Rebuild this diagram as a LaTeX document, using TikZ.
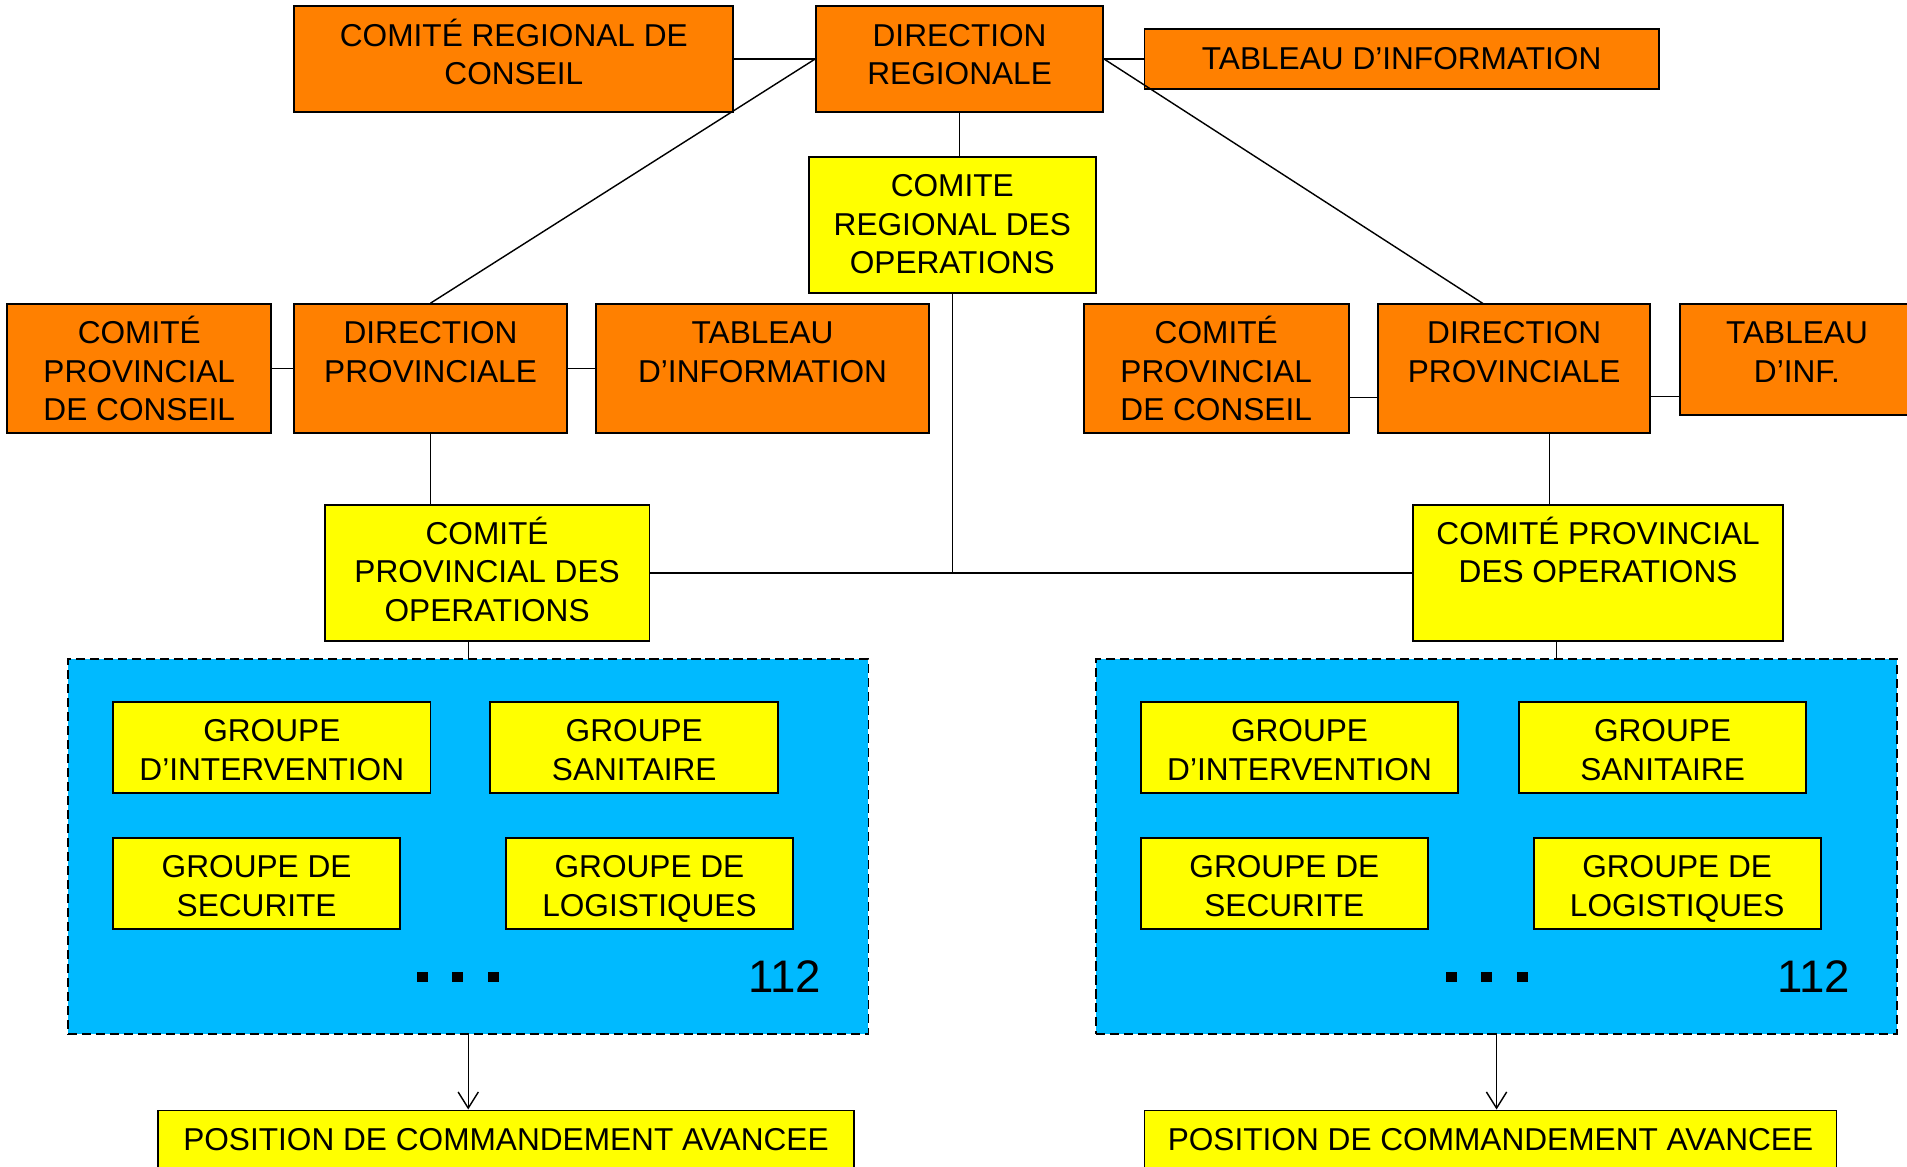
\documentclass[tikz,border=0pt]{standalone}
\usepackage{fontspec}
\setmainfont{Liberation Sans}
\usetikzlibrary{fit,calc,arrows.meta}
\definecolor{orng}{RGB}{255,128,0}
\definecolor{yel}{RGB}{255,255,0}
\definecolor{sky}{RGB}{0,186,255}
\tikzset{
  shapebox/.style={rectangle, draw=black, line width=0.9pt, inner sep=0pt},
  obox/.style={shapebox, fill=orng},
  ybox/.style={shapebox, fill=yel},
  bluebox/.style={rectangle, draw=black, fill=sky, line width=0.8pt, dash pattern=on 4.5pt off 2.4pt, inner sep=0pt},
  txt/.style={font=\fontsize{15.6}{18.9}\selectfont, align=center, inner sep=0pt},
  num/.style={font=\fontsize{22.5}{24}\selectfont, inner sep=0pt},
  dotsq/.style={rectangle, fill=black, minimum width=5.4pt, minimum height=5.1pt, inner sep=0pt},
  link/.style={draw=black, line width=0.7pt},
  arr/.style={link, -{Straight Barb[length=8pt,width=10pt]}}
}
\newcommand\orgbox[7]{%
  \node[#2, fit={(#3,#4) (#5,#6)}] (#1) {};
  \node[txt, anchor=north] (#1-t) at ($(#1.north)+(0,10.7)$) {\vphantom{É}\strut#7};
}
\begin{document}
\begin{tikzpicture}[x=0.6pt,y=-0.6pt]
\useasboundingbox (0,0) rectangle (1568,959.5);
\clip (0,0) rectangle (1568,959.5);

% blue group areas
\node[bluebox, fit={(56,542) (714,850)}] (bl) {};
\node[bluebox, fit={(901,542) (1560,850)}] (br) {};

% top level
\orgbox{crc}{obox}{242}{5}{603}{92}{COMITÉ REGIONAL DE\\CONSEIL}
\orgbox{dr}{obox}{671}{5}{907}{92}{DIRECTION\\REGIONALE}
\orgbox{ti}{obox}{941}{24}{1364}{73}{TABLEAU D’INFORMATION}
\orgbox{cro}{ybox}{665}{129}{901}{241}{COMITE\\REGIONAL DES\\OPERATIONS}

% provincial left
\orgbox{cpcl}{obox}{6}{250}{223}{356}{COMITÉ\\PROVINCIAL\\DE CONSEIL}
\orgbox{dpl}{obox}{242}{250}{466}{356}{DIRECTION\\PROVINCIALE}
\orgbox{til}{obox}{490}{250}{764}{356}{TABLEAU\\D’INFORMATION}
% provincial right
\orgbox{cpcr}{obox}{891}{250}{1109}{356}{COMITÉ\\PROVINCIAL\\DE CONSEIL}
\orgbox{dpr}{obox}{1133}{250}{1357}{356}{DIRECTION\\PROVINCIALE}
\orgbox{tir}{obox}{1381}{250}{1574}{341}{TABLEAU\\D’INF.}

% provincial operations
\orgbox{cpol}{ybox}{267}{415}{534}{527}{COMITÉ\\PROVINCIAL DES\\OPERATIONS}
\orgbox{cpor}{ybox}{1162}{415}{1466}{527}{COMITÉ PROVINCIAL\\DES OPERATIONS}

% groups left
\orgbox{gil}{ybox}{93}{577}{354}{652}{GROUPE\\D’INTERVENTION}
\orgbox{gsl}{ybox}{403}{577}{640}{652}{GROUPE\\SANITAIRE}
\orgbox{gsel}{ybox}{93}{689}{329}{764}{GROUPE DE\\SECURITE}
\orgbox{gll}{ybox}{416}{689}{652}{764}{GROUPE DE\\LOGISTIQUES}
% groups right
\orgbox{gir}{ybox}{938}{577}{1199}{652}{GROUPE\\D’INTERVENTION}
\orgbox{gsr}{ybox}{1249}{577}{1485}{652}{GROUPE\\SANITAIRE}
\orgbox{gser}{ybox}{938}{689}{1174}{764}{GROUPE DE\\SECURITE}
\orgbox{glr}{ybox}{1261}{689}{1497}{764}{GROUPE DE\\LOGISTIQUES}

% dots and 112
\node[dotsq] (d1l) at (347.5,803.2) {};
\node[dotsq] (d2l) at (376.5,803.2) {};
\node[dotsq] (d3l) at (405.5,803.2) {};
\node[num] (nl) at (645,803) {112};
\node[dotsq] (d1r) at (1193.5,803.2) {};
\node[dotsq] (d2r) at (1222.5,803.2) {};
\node[dotsq] (d3r) at (1251.5,803.2) {};
\node[num] (nr) at (1491,803) {112};

% advanced command posts
\orgbox{pcal}{ybox}{130}{913}{702}{975}{POSITION DE COMMANDEMENT AVANCEE}
\orgbox{pcar}{ybox}{941}{913}{1510}{975}{POSITION DE COMMANDEMENT AVANCEE}

% connectors
\draw[link] (crc.east) -- (dr.west);
\draw[link] (dr.east) -- (ti.west);
\draw[link] (dr.south) -- (dr.south |- cro.north);
\draw[link] (dr.west) -- (dpl.north);
\coordinate (dprtop) at (1220,250);
\draw[link] (dr.east) -- (dprtop);
\draw[link] (cpcl.east) -- (dpl.west);
\draw[link] (dpl.east) -- (til.west);
\draw[link] ($(cpcr.east)+(0,24)$) -- ($(dpr.west)+(0,24)$);
\draw[link] ($(dpr.east)+(0,23)$) -- ($(tir.west)+(0,30.5)$);
\draw[link] (dpl.south) -- (dpl.south |- cpol.north);
\draw[link] ($(dpr.south)+(29,0)$) coordinate (dprb) -- (dprb |- cpor.north);
\draw[link] (cpol.east) -- (cpor.west);
\draw[link] (cro.south) -- (cro.south |- cpol.east);
\draw[link] ($(cpol.south)+(-15.5,0)$) coordinate (cpolb) -- (cpolb |- bl.north);
\draw[link] ($(cpor.south)+(-34,0)$) coordinate (cporb) -- (cporb |- br.north);
\draw[arr] (bl.south) -- (bl.south |- pcal.north);
\draw[arr] (br.south) -- (br.south |- pcar.north);
\end{tikzpicture}
\end{document}
